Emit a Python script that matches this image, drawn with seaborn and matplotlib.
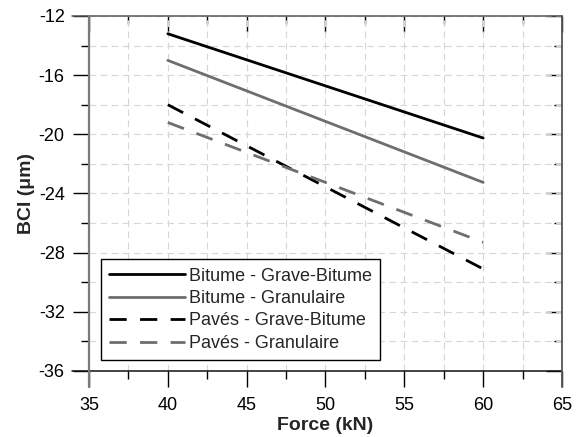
import matplotlib
matplotlib.use("Agg")
import matplotlib.pyplot as plt
from matplotlib.ticker import MultipleLocator
from matplotlib.lines import Line2D
import seaborn as sns
import pandas as pd

# ---- data ----
force = [40, 60]
bitume_grave_bitume = [-13.2, -20.25]
bitume_granulaire = [-15.0, -23.25]
paves_grave_bitume = [-18.0, -29.1]
paves_granulaire = [-19.2, -27.3]
series_names = ["Bitume - Grave-Bitume", "Bitume - Granulaire",
                "Pavés - Grave-Bitume", "Pavés - Granulaire"]
series_values = [bitume_grave_bitume, bitume_granulaire,
                 paves_grave_bitume, paves_granulaire]
x_ticks = [35, 40, 45, 50, 55, 60, 65]
y_ticks = [-36, -32, -28, -24, -20, -16, -12]

rows = []
for name, vals in zip(series_names, series_values):
    for f, v in zip(force, vals):
        rows.append({"Force": f, "BCI": v, "Série": name})
df = pd.DataFrame(rows)

sns.set_theme(style="white")
plt.rcParams["font.family"] = ["Liberation Sans", "DejaVu Sans"]

fig = plt.figure(figsize=(5.77, 4.37), dpi=100)
ax = fig.add_axes([89/577, 66/437, 473/577, 355/437])

gray = "#6e6e6e"
palette = {series_names[0]: "black", series_names[1]: gray,
           series_names[2]: "black", series_names[3]: gray}
dashes = {series_names[0]: "", series_names[1]: "",
          series_names[2]: (6.2, 4.8), series_names[3]: (6.2, 4.8)}

sns.lineplot(data=df, x="Force", y="BCI", hue="Série", style="Série",
             palette=palette, dashes=dashes, linewidth=2.0, ax=ax,
             hue_order=series_names, style_order=series_names, zorder=3)

ax.set_xlim(35, 65)
ax.set_ylim(-36, -12)
ax.set_xticks(x_ticks)
ax.set_yticks(y_ticks)
ax.set_xticklabels([str(t) for t in x_ticks])
ax.set_yticklabels([str(t) for t in y_ticks])
ax.xaxis.set_minor_locator(MultipleLocator(2.5))
ax.yaxis.set_minor_locator(MultipleLocator(2))

ax.grid(True, which="both", color="#d6d6d6", linestyle=(0, (6, 4)), linewidth=0.8, zorder=0)
ax.set_axisbelow(True)

ax.tick_params(axis="both", which="major", direction="out", length=11.5, width=1.0,
               color="black", labelsize=13, labelcolor="black", pad=6,
               bottom=True, left=True, top=False, right=False)
ax.tick_params(axis="x", which="major", pad=7.5)
ax.tick_params(axis="both", which="minor", direction="out", length=5.8, width=1.0,
               color="black", bottom=True, left=True, top=False, right=False)

# top and right inward ticks
top = ax.secondary_xaxis("top")
top.set_xticks(x_ticks)
top.xaxis.set_minor_locator(MultipleLocator(2.5))
top.tick_params(which="major", direction="in", length=11.5, width=1.0, color="black", labeltop=False)
top.tick_params(which="minor", direction="in", length=5.8, width=1.0, color="black")
top.spines["top"].set_visible(False)
right = ax.secondary_yaxis("right")
right.set_yticks(y_ticks)
right.yaxis.set_minor_locator(MultipleLocator(2))
right.tick_params(which="major", direction="in", length=11.5, width=1.0, color="black", labelright=False)
right.tick_params(which="minor", direction="in", length=5.8, width=1.0, color="black")
right.spines["right"].set_visible(False)

for s in ax.spines.values():
    s.set_visible(False)

ext_x = -17/473
ext_y = -16/355
tr = ax.transAxes
fig.add_artist(Line2D([ext_x, 1], [1, 1], transform=tr, color="#555555", lw=1.1, clip_on=False))
fig.add_artist(Line2D([ext_x, 1], [0, 0], transform=tr, color="#111111", lw=1.1, clip_on=False))
fig.add_artist(Line2D([0, 0], [ext_y, 1], transform=tr, color="#7a7a7a", lw=1.6, clip_on=False))
fig.add_artist(Line2D([1, 1], [ext_y, 1], transform=tr, color="#555555", lw=1.3, clip_on=False))

ax.set_xlabel("Force (kN)", fontsize=14, fontweight="bold", labelpad=2)
ax.set_ylabel("BCI (μm)", fontsize=14, fontweight="bold", labelpad=3)

handles, labels = ax.get_legend_handles_labels()
leg = ax.legend(handles, labels, loc="lower left", bbox_to_anchor=(0.025, 0.031),
                borderaxespad=0, fontsize=13, frameon=True, fancybox=False,
                edgecolor="black", framealpha=1, handlelength=4.2,
                handletextpad=0.25, labelspacing=0.3, borderpad=0.45)
leg.get_frame().set_linewidth(1.0)
for lh in leg.get_lines():
    lh.set_linewidth(2.0)

fig.savefig("out.png", dpi=100)
